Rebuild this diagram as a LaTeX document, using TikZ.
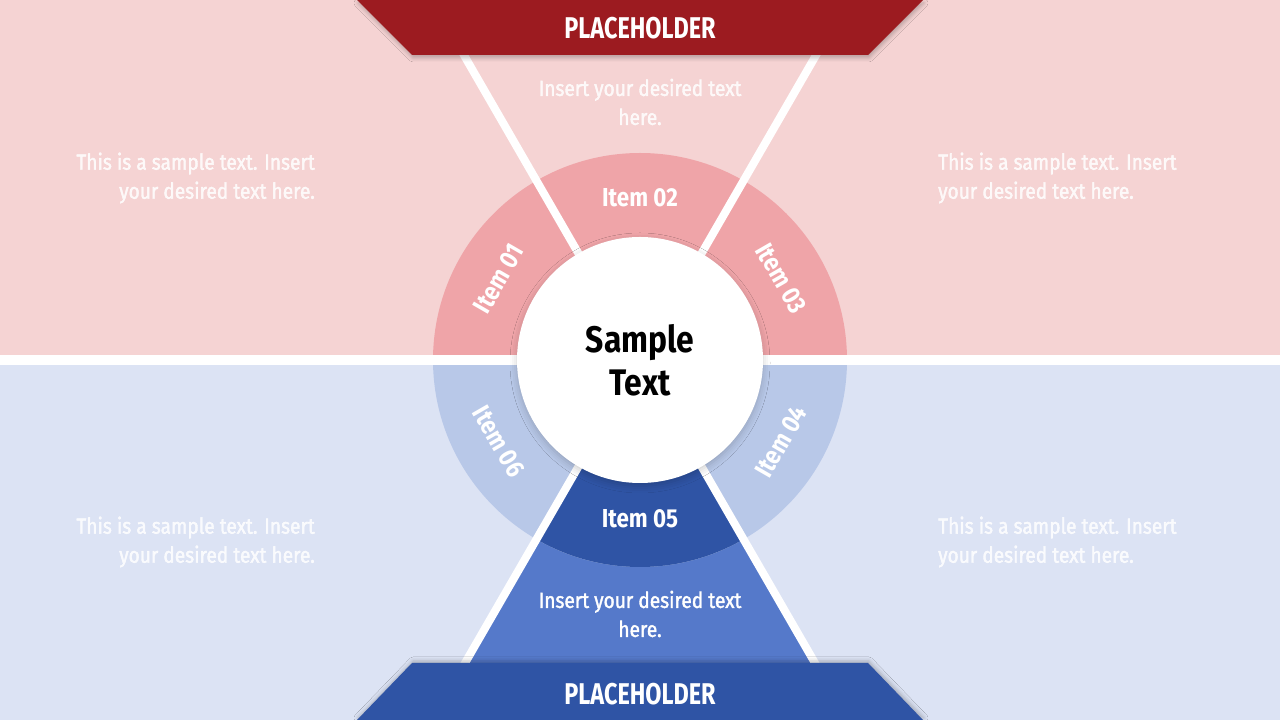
\documentclass[tikz,border=0pt]{standalone}
\usepackage{fontspec}
\setmainfont[FakeStretch=0.78]{Fira Sans}
\newfontfamily\itemfont[FakeStretch=0.86]{Fira Sans}
\newfontfamily\bodyfont[FakeStretch=0.87,FakeBold=1.6]{Fira Sans}
\usetikzlibrary{calc,shadows.blur}
\definecolor{pinkbg}{HTML}{F5D3D3}
\definecolor{pinkring}{HTML}{EFA4A8}
\definecolor{redhead}{HTML}{9C1B20}
\definecolor{bluebg}{HTML}{DCE3F4}
\definecolor{bluering}{HTML}{B8C8E8}
\definecolor{bluedark}{HTML}{2F54A5}
\definecolor{bluemid}{HTML}{5579CA}
\tikzset{
  headtxt/.style={text=white,font=\bfseries\fontsize{30}{34}\selectfont,inner sep=0pt},
  itemtxt/.style={text=white,font=\itemfont\bfseries\fontsize{26}{30}\selectfont,inner sep=0pt},
  bodytxt/.style={text=white,text opacity=0.85,font=\bodyfont\fontsize{22}{29}\selectfont,inner sep=0pt},
  gapline/.style={white,line width=8pt},
}
\begin{document}
\begin{tikzpicture}[x=1pt,y=1pt]
\useasboundingbox (0,0) rectangle (1280,720);
\fill[white] (0,0) rectangle (1280,720);
\fill[pinkbg] (0,365) rectangle (1280,720);
\fill[bluebg] (0,0) rectangle (1280,355);
\coordinate (C) at (640,360);
\coordinate (TL) at (455.2,680);
\coordinate (TR) at (824.8,680);
\coordinate (BL) at (455.2,40);
\coordinate (BR) at (824.8,40);
% bottom triangle
\fill[bluemid] (C) -- (BL) -- (BR) -- cycle;
% ring
\fill[pinkring] (847,360) arc[start angle=0,end angle=180,radius=207] -- cycle;
\fill[bluering] (433,360) arc[start angle=180,end angle=360,radius=207] -- cycle;
\fill[bluedark] (C) -- ($(C)+(240:207)$) arc[start angle=240,end angle=300,radius=207] -- cycle;
% white gaps
\fill[white] (0,355) rectangle (1280,365);
\draw[gapline] (C) -- (TL);
\draw[gapline] (C) -- (TR);
\draw[gapline] (C) -- (BL);
\draw[gapline] (C) -- (BR);
% headers
\fill[redhead,blur shadow={shadow xshift=1pt,shadow yshift=-3pt,shadow blur radius=4pt,shadow opacity=25}] (357,720) -- (923,720) -- (868,665) -- (412,665) -- cycle;
\fill[bluedark,blur shadow={shadow xshift=1pt,shadow yshift=2pt,shadow blur radius=4pt,shadow opacity=25}] (357,0) -- (923,0) -- (868,57) -- (412,57) -- cycle;
% centre circle
\fill[white,blur shadow={shadow xshift=0pt,shadow yshift=-3pt,shadow blur radius=7pt,shadow opacity=20}] (C) circle[radius=123];
% texts
\node[headtxt] (h1) at (640,692) {PLACEHOLDER};
\node[headtxt] (h2) at (640,26) {PLACEHOLDER};
\node[text=black,font=\itemfont\bfseries\fontsize{37}{43}\selectfont,align=center,inner sep=0pt] (ctr) at (640,360) {Sample\\Text};
\node[itemtxt,rotate=60] (i1) at ($(C)+(150:163)$) {Item 01};
\node[itemtxt] (i2) at ($(C)+(90:162)$) {Item 02};
\node[itemtxt,rotate=-60] (i3) at ($(C)+(30:163)$) {Item 03};
\node[itemtxt,rotate=60] (i4) at ($(C)+(-30:163)$) {Item 04};
\node[itemtxt] (i5) at ($(C)+(270:159)$) {Item 05};
\node[itemtxt,rotate=-60] (i6) at ($(C)+(210:163)$) {Item 06};
\node[bodytxt,align=center] (tt) at (640,618) {Insert your desired text\\here.};
\node[bodytxt,align=center,text opacity=1] (bt) at (640,106) {Insert your desired text\\here.};
\node[bodytxt,align=right,anchor=east] (l1) at (315,542) {This is a sample text. Insert\\your desired text here.};
\node[bodytxt,align=left,anchor=west] (r1) at (938,542) {This is a sample text. Insert\\your desired text here.};
\node[bodytxt,align=right,anchor=east] (l2) at (315,178) {This is a sample text. Insert\\your desired text here.};
\node[bodytxt,align=left,anchor=west] (r2) at (938,178) {This is a sample text. Insert\\your desired text here.};
\end{tikzpicture}
\end{document}
